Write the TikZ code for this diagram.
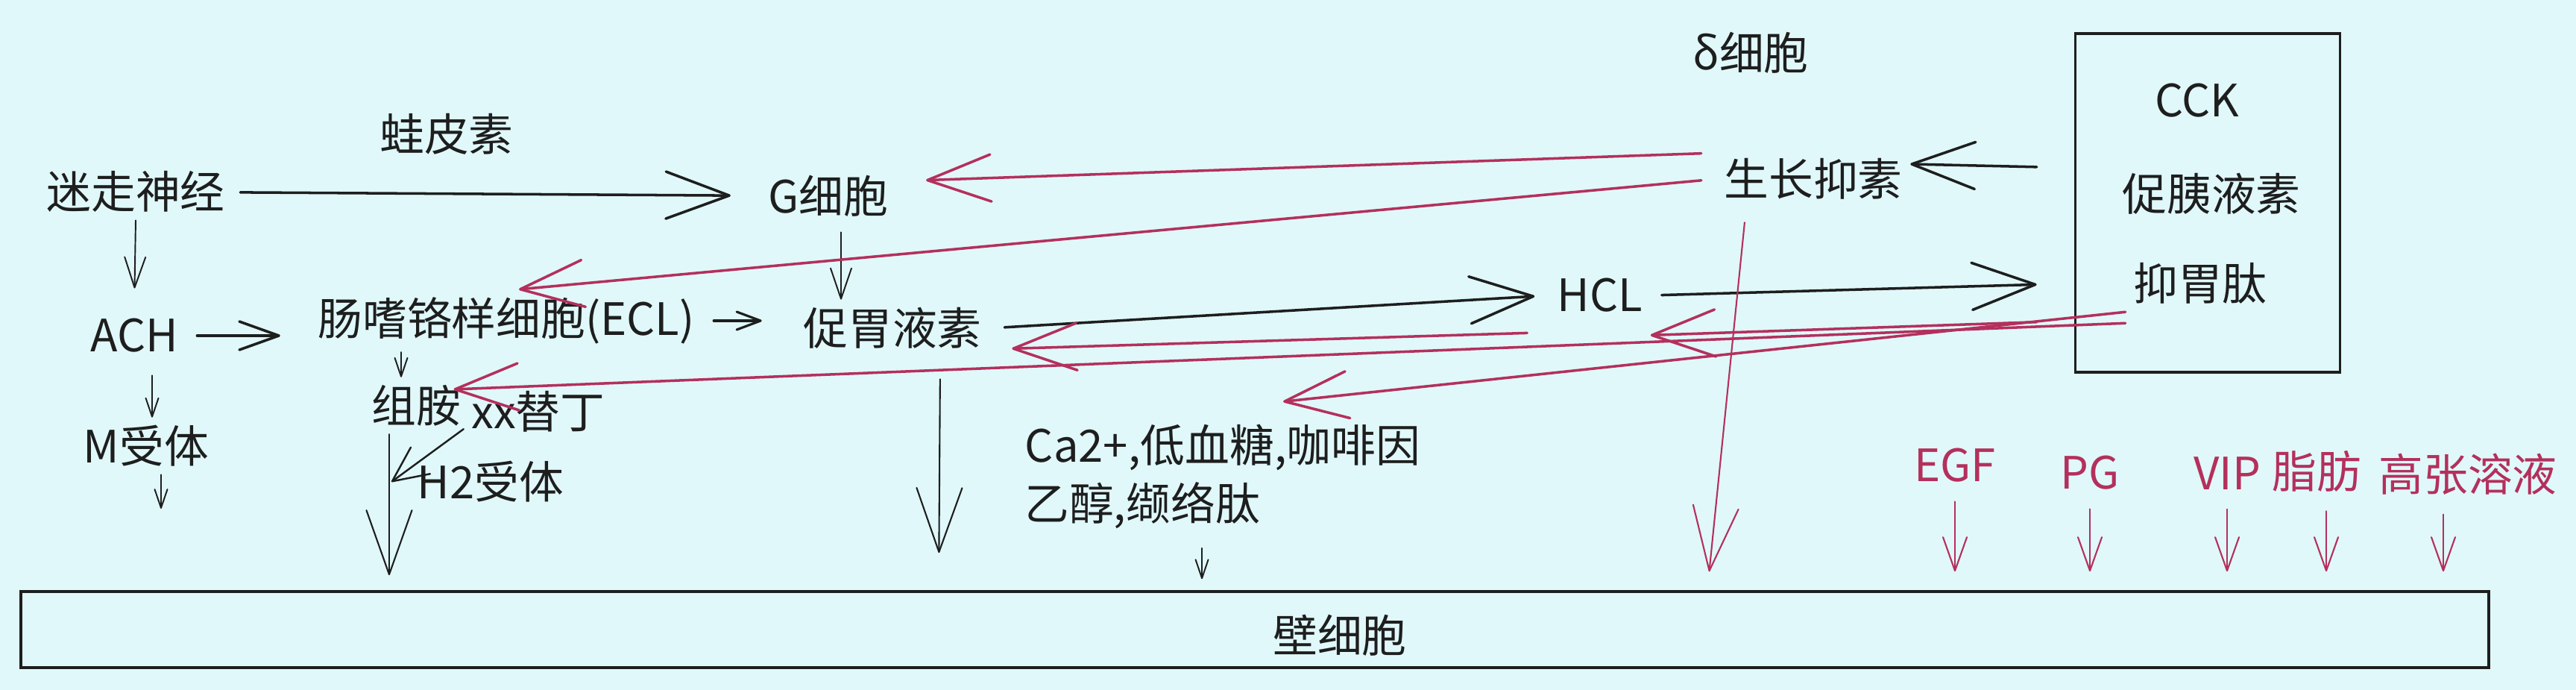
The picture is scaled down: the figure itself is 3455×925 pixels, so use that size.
\documentclass[tikz,border=0pt]{standalone}
\usepackage{fontspec}
\newfontfamily\cjk{Noto Sans CJK SC}
\usepackage{tikz}
\usetikzlibrary{arrows.meta, positioning}
\definecolor{bgcyan}{RGB}{224,248,250}
\definecolor{ink}{RGB}{30,30,30}
\definecolor{pinkred}{RGB}{180,48,92}
\tikzset{
every node/.style={font=\cjk\fontsize{17}{20}\selectfont, inner sep=1mm, text=ink}, % all labels in one face and size
pinktext/.style={text=pinkred}, % labels of the inhibiting side
box/.style={draw=ink, line width=1pt, inner sep=0pt}, % the two frames
bigarr/.style={draw=ink, line width=1pt, line cap=round, -{Straight Barb[length=8.5mm,width=6.3mm,round]}},
midarr/.style={draw=ink, line width=1pt, line cap=round, -{Straight Barb[length=5.3mm,width=3.8mm,round]}},
smallarr/.style={draw=ink, line width=0.9pt, line cap=round, -{Straight Barb[length=3.2mm,width=2.4mm,round]}},
thinarr/.style={draw=ink, line width=0.55pt, line cap=round, -{Straight Barb[length=4.1mm,width=2.8mm,round]}},
tinyarr/.style={draw=ink, line width=0.55pt, line cap=round, -{Straight Barb[length=2.5mm,width=1.7mm,round]}},
tallarr/.style={draw=ink, line width=0.6pt, line cap=round, -{Straight Barb[length=8.6mm,width=6.1mm,round]}},
slantarr/.style={draw=ink, line width=0.7pt, line cap=round, -{Straight Barb[length=4.7mm,width=4.4mm,round]}},
bigpink/.style={draw=pinkred, line width=1pt, line cap=round, -{Straight Barb[length=8.5mm,width=6.3mm,round]}},
tallpink/.style={draw=pinkred, line width=0.6pt, line cap=round, -{Straight Barb[length=8.6mm,width=6.1mm,round]}},
smallpink/.style={draw=pinkred, line width=0.6pt, line cap=round, shorten <=1.5mm, shorten >=2.5mm, -{Straight Barb[length=4.5mm,width=3.2mm,round]}},
}
\begin{document}
\begin{tikzpicture}[x=0.01cm, y=-0.01cm]
\useasboundingbox (0,0) rectangle (3455,925);
\fill[bgcyan] (0,0) rectangle (3455,925);

\node (vagus) at (182,257) {迷走神经};
\node (bombesin) at (599,180) {蛙皮素};
\node (gcell) at (1111,263) {G细胞};
\node (ach) at (180,450) {ACH};
\node (ecl) at (679,430) {肠嗜铬样细胞(ECL)};
\node (gastrin) at (1197,440) {促胃液素};
\node (hcl) at (2146,396) {HCL};
\node (delta) at (2348,71) {δ细胞};
\node (sst) at (2432,240) {生长抑素};
\node[box, minimum width=35.5mm, minimum height=45.4mm] (cck) at (2961,272) {};
\node (ccktext) at (2947,135) {CCK};
\node (secretin) at (2966,260) {促胰液素};
\node (gip) at (2951,380) {抑胃肽};
\node (mrec) at (196,598) {M受体};
\node (hist) at (558,544) {组胺};
\node (xx) at (722,552) {xx替丁};
\node (h2) at (658,646) {H2受体};
\node (ca) at (1640,600) {Ca2+,低血糖,咖啡因};
\node (eth) at (1532,678) {乙醇,缬络肽};
\node[box, minimum width=330.8mm, minimum height=10.2mm] (parietal) at (1683,844) {};
\node (pctext) at (1797,852) {壁细胞};
\node[pinktext] (egf) at (2622,624) {EGF};
\node[pinktext] (pg) at (2803,634) {PG};
\node[pinktext] (vip) at (2987,635) {VIP};
\node[pinktext] (fat) at (3107,632) {脂肪};
\node[pinktext] (hyper) at (3310,636) {高张溶液};
\coordinate (mout) at (216,682);

\draw
(vagus) edge[bigarr, shorten <=1mm, shorten >=4mm] (gcell)
(vagus.south) edge[thinarr, shorten >=3mm] (ach.north)
(ach.east) edge[midarr, shorten <=1.5mm, shorten >=4mm] (ach.east -| ecl.west)
(ecl.east) edge[smallarr, shorten <=1.5mm, shorten >=4.5mm] (ecl.east -| gastrin.west)
([xshift=1.7mm]gcell.south) edge[thinarr, shorten <=1mm] ([xshift=1.7mm]gcell.south |- gastrin.north)
(gastrin.east) edge[bigarr, shorten <=2mm, shorten >=2mm] (hcl.west)
(hcl.east) edge[bigarr, shorten <=1.5mm, shorten >=5mm] (gip -| cck.west)
([yshift=1.5mm]sst -| cck.west) edge[bigarr, shorten <=5mm] ([yshift=2mm]sst.east)
([xshift=-2mm]hist.north |- ecl.south) edge[tinyarr] ([xshift=-2mm]hist.north)
([xshift=2.4mm]ach.south) edge[tinyarr, shorten <=2mm] ([xshift=2.4mm]ach.south |- mrec.north)
(mrec.south -| mout) edge[tinyarr] (mout)
([xshift=-3.6mm]hist.south) edge[tallarr, shorten >=2mm] ([xshift=-3.6mm]hist.south |- parietal.north)
([yshift=1.5mm]xx.south west) edge[slantarr] ([xshift=-3.3mm]hist.south |- h2)
([xshift=6.4mm]gastrin.south) edge[tallarr, shorten <=3mm, shorten >=5mm] ([xshift=6.2mm]gastrin.south |- parietal.north)
([xshift=8mm]eth.south) edge[tinyarr, shorten <=1.5mm, shorten >=1.5mm] ([xshift=8mm]eth.south |- parietal.north)
;
\draw
([yshift=3.5mm]sst.west) edge[bigpink, shorten <=2mm, shorten >=4mm] ([yshift=2mm]gcell.east)
(sst.west) edge[bigpink, shorten <=2mm] ([xshift=1.7mm]ecl.north)
([xshift=-9mm]sst.south) edge[tallpink, shorten <=2mm, shorten >=2.5mm] ([xshift=-14.2mm]sst.south |- parietal.north)
([yshift=-5mm]gip -| cck.west) edge[bigpink, shorten <=5mm] ([yshift=-2mm]hcl.south east)
(gip.south west) edge[bigpink] ([xshift=8.1mm,yshift=2mm]ca.north)
([yshift=-1.5mm]gip.south west) edge[bigpink] ([xshift=-2mm,yshift=2.2mm]hist.east)
([xshift=-3mm,yshift=-1.7mm]hcl.south west) edge[bigpink] ([xshift=3mm,yshift=1.1mm]gastrin.south east)
(egf.south) edge[smallpink] (egf.south |- parietal.north)
(pg.south) edge[smallpink] (pg.south |- parietal.north)
(vip.south) edge[smallpink] (vip.south |- parietal.north)
([xshift=1.3mm]fat.south) edge[smallpink] ([xshift=1.3mm]fat.south |- parietal.north)
([xshift=-3.3mm]hyper.south) edge[smallpink] ([xshift=-3.3mm]hyper.south |- parietal.north)
;
\end{tikzpicture}
\end{document}
